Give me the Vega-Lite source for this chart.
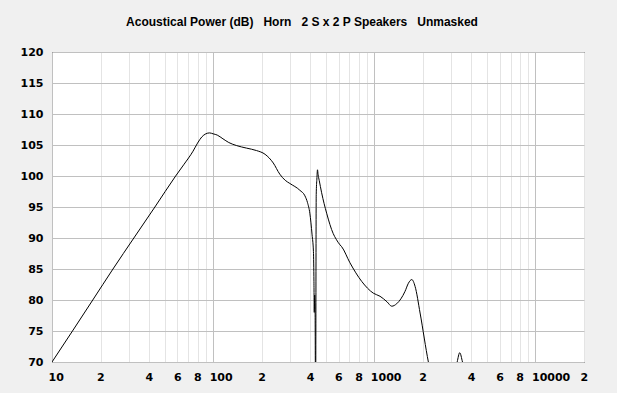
{
  "$schema": "https://vega.github.io/schema/vega-lite/v6.json",
  "width": 532,
  "height": 310,
  "autosize": "none",
  "padding": {"left": 52, "top": 52, "right": 33, "bottom": 31},
  "background": "#f0f0f0",
  "title": {
    "text": "Acoustical Power (dB)\u00a0\u00a0\u00a0Horn\u00a0\u00a0\u00a02 S x 2 P Speakers\u00a0\u00a0\u00a0Unmasked",
    "font": "Liberation Sans",
    "fontSize": 12,
    "fontWeight": "bold",
    "color": "#000000",
    "anchor": "middle",
    "dx": -16,
    "offset": 17
  },
  "config": {
    "view": {"stroke": "#000000", "strokeWidth": 1, "fill": "#ffffff"},
    "axis": {
      "labelFont": "DejaVu Sans",
      "labelFontSize": 11,
      "labelFontWeight": "bold",
      "labelColor": "#000000",
      "ticks": false,
      "domain": false,
      "title": null
    }
  },
  "data": {
    "values": [
      {"f": 10, "db": 70.0},
      {"f": 13.4, "db": 75.0},
      {"f": 17.9, "db": 80.0},
      {"f": 23.9, "db": 85.0},
      {"f": 32.2, "db": 90.0},
      {"f": 43.5, "db": 95.0},
      {"f": 58.5, "db": 100.0},
      {"f": 66, "db": 101.9},
      {"f": 75, "db": 104.0},
      {"f": 80, "db": 105.3},
      {"f": 85, "db": 106.3},
      {"f": 90, "db": 106.8},
      {"f": 95, "db": 106.95},
      {"f": 100, "db": 106.8},
      {"f": 106, "db": 106.6},
      {"f": 115, "db": 106.0},
      {"f": 125, "db": 105.4},
      {"f": 140, "db": 104.9},
      {"f": 161, "db": 104.5},
      {"f": 186, "db": 104.1},
      {"f": 210, "db": 103.5},
      {"f": 236, "db": 102.1},
      {"f": 259, "db": 100.3},
      {"f": 280, "db": 99.3},
      {"f": 299, "db": 98.8},
      {"f": 345, "db": 97.7},
      {"f": 371, "db": 96.8},
      {"f": 385, "db": 95.7},
      {"f": 398, "db": 94.0},
      {"f": 411, "db": 90.5},
      {"f": 419, "db": 87.8},
      {"f": 422, "db": 83.0},
      {"f": 424, "db": 78.0},
      {"f": 426.5, "db": 80.8},
      {"f": 429, "db": 78.5},
      {"f": 432, "db": 60.0},
      {"f": 436, "db": 97.0},
      {"f": 440, "db": 99.5},
      {"f": 444, "db": 101.0},
      {"f": 448, "db": 100.2},
      {"f": 455, "db": 99.3},
      {"f": 471, "db": 97.3},
      {"f": 506, "db": 94.0},
      {"f": 556, "db": 90.7},
      {"f": 580, "db": 89.8},
      {"f": 612, "db": 88.9},
      {"f": 627, "db": 88.6},
      {"f": 706, "db": 86.0},
      {"f": 835, "db": 83.0},
      {"f": 986, "db": 81.1},
      {"f": 1085, "db": 80.6},
      {"f": 1200, "db": 79.7},
      {"f": 1282, "db": 79.0},
      {"f": 1377, "db": 79.4},
      {"f": 1551, "db": 81.4},
      {"f": 1627, "db": 82.7},
      {"f": 1708, "db": 83.3},
      {"f": 1790, "db": 82.2},
      {"f": 1923, "db": 77.9},
      {"f": 2165, "db": 70.0},
      {"f": 2400, "db": 65.0},
      {"f": 2900, "db": 62.0},
      {"f": 3266, "db": 70.0},
      {"f": 3388, "db": 71.5},
      {"f": 3524, "db": 70.0},
      {"f": 4000, "db": 62.0},
      {"f": 6000, "db": 55.0},
      {"f": 10000, "db": 50.0},
      {"f": 20000, "db": 45.0}
    ]
  },
  "mark": {"type": "line", "color": "#000000", "strokeWidth": 1, "clip": true, "interpolate": "monotone"},
  "encoding": {
    "x": {
      "field": "f",
      "type": "quantitative",
      "scale": {"type": "log", "domain": [10, 20000], "nice": false},
      "axis": {
        "values": [10, 20, 30, 40, 50, 60, 70, 80, 90, 100, 200, 300, 400, 500, 600, 700, 800, 900, 1000, 2000, 3000, 4000, 5000, 6000, 7000, 8000, 9000, 10000, 20000],
        "labelExpr": "indexof([10,100,1000,10000], datum.value) >= 0 ? toString(datum.value) : (indexof([20,40,60,80,200,400,600,800,2000,4000,6000,8000,20000], datum.value) >= 0 ? substring(toString(datum.value), 0, 1) : '')",
        "labelAlign": "left",
        "labelOffset": -4,
        "labelPadding": 9,
        "labelOverlap": false,
        "labelFlush": false,
        "labelBound": false,
        "grid": true,
        "gridColor": {
          "condition": {"test": "indexof([10,100,1000,10000], datum.value) >= 0", "value": "#c0c0c0"},
          "value": "#e4e4e4"
        }
      }
    },
    "y": {
      "field": "db",
      "type": "quantitative",
      "scale": {"domain": [70, 120], "nice": false, "zero": false},
      "axis": {
        "values": [70, 75, 80, 85, 90, 95, 100, 105, 110, 115, 120],
        "labelPadding": 9,
        "labelOverlap": false,
        "labelFlush": false,
        "grid": true,
        "gridColor": "#c0c0c0"
      }
    }
  }
}
